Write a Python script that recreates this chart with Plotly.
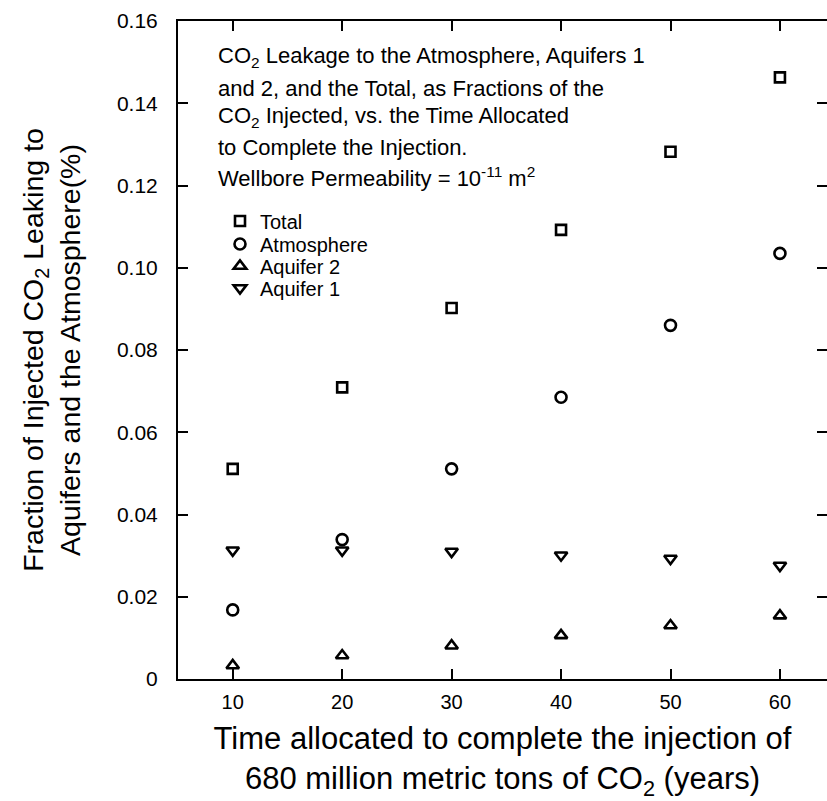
import plotly.graph_objects as go

years = [10, 20, 30, 40, 50, 60]
total = [0.0511, 0.0709, 0.0902, 0.1092, 0.1282, 0.1463]
atmosphere = [0.0168, 0.0339, 0.0511, 0.0685, 0.0860, 0.1035]
aquifer2 = [0.0033, 0.0057, 0.0081, 0.0106, 0.0130, 0.0154]
aquifer1 = [0.0313, 0.0313, 0.0310, 0.0301, 0.0293, 0.0276]

y_tickvals = [0, 0.02, 0.04, 0.06, 0.08, 0.10, 0.12, 0.14, 0.16]
y_ticktext = ["0", "0.02", "0.04", "0.06", "0.08", "0.10", "0.12", "0.14", "0.16"]
x_tickvals = [10, 20, 30, 40, 50, 60]

note_lines = [
    "CO<sub>2</sub> Leakage to the Atmosphere, Aquifers 1",
    "and 2, and the Total, as Fractions of the",
    "CO<sub>2</sub> Injected, vs. the Time Allocated",
    "to Complete the Injection.",
    "Wellbore Permeability = 10<sup>-11</sup> m<sup>2</sup>",
]

FONT = "Liberation Sans, Arial, sans-serif"
W, H = 827, 801
L, R, T, B = 178, 0, 21, 122
plot_h = H - T - B
plot_w = W - L - R

fig = go.Figure()
series = [
    ("Total", total, "square-open", 10, "legend"),
    ("Atmosphere", atmosphere, "circle-open", 11, "legend2"),
    ("Aquifer 2", aquifer2, "triangle-up-open", 11, "legend3"),
    ("Aquifer 1", aquifer1, "triangle-down-open", 11, "legend4"),
]
for name, vals, sym, sz, lg in series:
    fig.add_trace(go.Scatter(
        x=years, y=vals, mode="markers", name=name, legend=lg,
        marker=dict(symbol=sym, size=sz, color="black", line=dict(color="black", width=2.6)),
    ))

# right-side ticks only (no line)
fig.add_trace(go.Scatter(x=[None], y=[None], yaxis="y2", showlegend=False, hoverinfo="skip"))

for i, line in enumerate(note_lines):
    yc = [57, 88, 117, 147, 177][i]
    fig.add_annotation(
        text=line, xref="paper", yref="paper",
        x=(216 - L) / plot_w, y=(H - B - yc) / plot_h,
        xanchor="left", yanchor="middle", showarrow=False, align="left",
        font=dict(family=FONT, size=22, color="black"),
    )

legend_rows = [221, 244, 266, 288]
legend_common = dict(
    xanchor="left", yanchor="middle",
    font=dict(family=FONT, size=20, color="black"),
    bgcolor="rgba(0,0,0,0)", itemwidth=30,
)
legends = {}
for key, yc in zip(["legend", "legend2", "legend3", "legend4"], legend_rows):
    legends[key] = dict(x=(220 - L) / plot_w, y=(H - B - yc) / plot_h, **legend_common)

fig.update_layout(
    width=W, height=H,
    margin=dict(l=L, r=R, t=T, b=B),
    paper_bgcolor="white", plot_bgcolor="white",
    font=dict(family=FONT, color="black"),
    showlegend=True,
    **legends,
    xaxis=dict(
        range=[5, 64.3], tickvals=x_tickvals, ticks="inside", ticklen=10, tickwidth=1.5,
        tickcolor="black", showline=True, linewidth=2, linecolor="black", mirror="ticks",
        showgrid=False, zeroline=False, ticklabelstandoff=4,
        tickfont=dict(family=FONT, size=20, color="black"),
        title=dict(
            text="Time allocated to complete the injection of<br>680 million metric tons of CO<sub>2</sub> (years)",
            font=dict(family=FONT, size=31, color="black"), standoff=20,
        ),
    ),
    yaxis=dict(
        range=[0, 0.16], tickvals=y_tickvals, ticktext=y_ticktext, ticks="inside", ticklen=10,
        tickwidth=1.5, tickcolor="black", showline=True, linewidth=2, linecolor="black",
        showgrid=False, zeroline=False, ticklabelstandoff=14,
        tickfont=dict(family=FONT, size=21, color="black"),
        title=dict(
            text="Fraction of Injected CO<sub>2</sub> Leaking to<br>Aquifers and the Atmosphere(%)",
            font=dict(family=FONT, size=28.5, color="black"), standoff=28,
        ),
    ),
    yaxis2=dict(
        overlaying="y", side="right", range=[0, 0.16], tickvals=y_tickvals, ticks="inside",
        ticklen=10, tickwidth=1.5, tickcolor="black", showline=False, showticklabels=False,
        showgrid=False, zeroline=False,
    ),
)

fig.write_html("out.html")
